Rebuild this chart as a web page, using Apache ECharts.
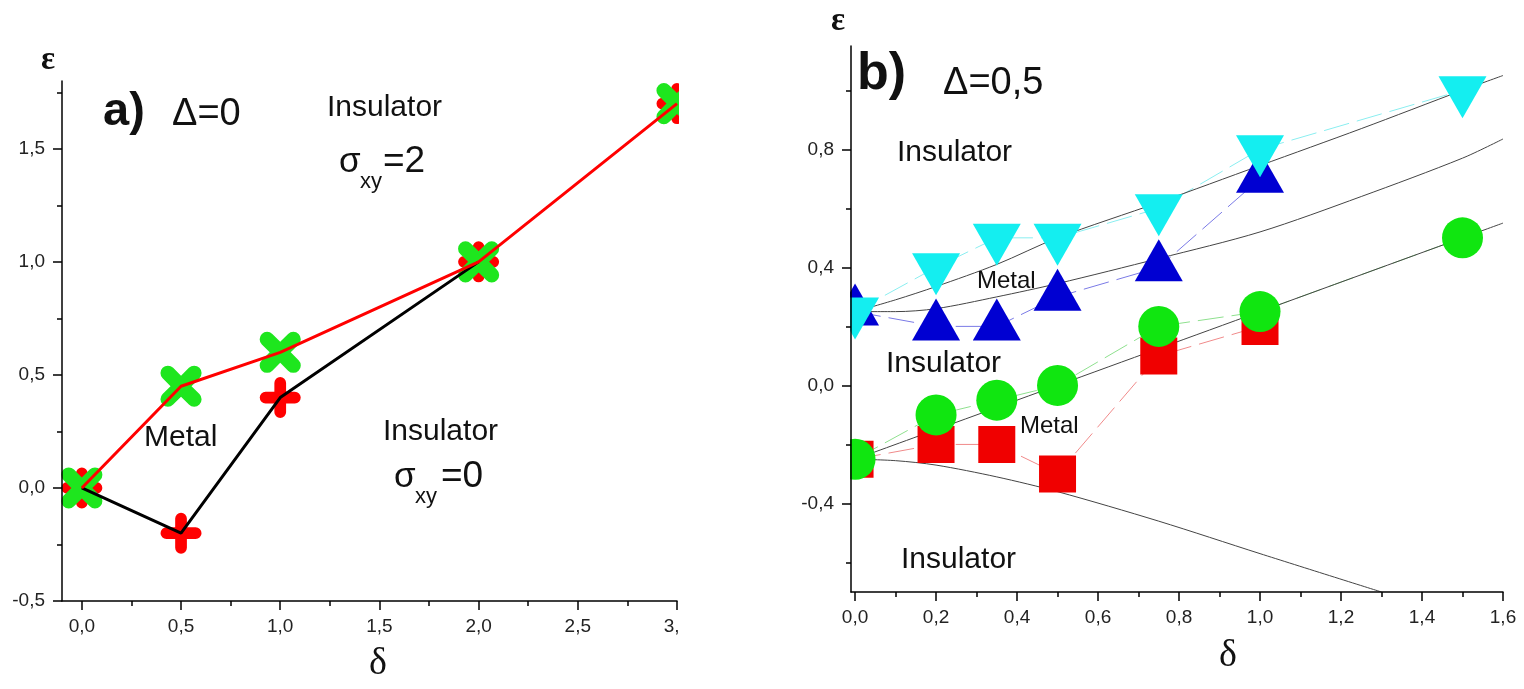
<!DOCTYPE html>
<html>
<head>
<meta charset="utf-8">
<script src="https://cdn.jsdelivr.net/npm/echarts@6/dist/echarts.min.js"></script>
<style>
html, body { margin: 0; padding: 0; background: #fff; }
#wrap { position: relative; width: 1524px; height: 689px; overflow: hidden; }
#chartA { position: absolute; left: 0; top: 0; width: 679px; height: 689px; }
#chartB { position: absolute; left: 679px; top: 0; width: 845px; height: 689px; }
</style>
</head>
<body>
<div id="wrap"><div id="chartA"></div><div id="chartB"></div></div>
<script>
// panel a) Delta=0
var aUpperDelta = [0, 0.5, 1.0, 2.0, 3.0];
var aUpperEps = [0, 0.45, 0.6, 1.0, 1.7];
var aLowerDelta = [0, 0.5, 1.0, 2.0];
var aLowerEps = [0, -0.2, 0.4, 1.0];
var aPlusDelta = [0, 0.5, 1.0, 2.0, 3.0];
var aPlusEps = [0, -0.2, 0.4, 1.0, 1.7];
var aXTicks = [0, 0.5, 1.0, 1.5, 2.0, 2.5, 3.0];
var aXMinor = [0.25, 0.75, 1.25, 1.75, 2.25, 2.75];
var aYTicks = [-0.5, 0, 0.5, 1.0, 1.5];
var aYMinor = [-0.25, 0.25, 0.75, 1.25, 1.75];

// panel b) Delta=0,5
var bDelta = [0, 0.2, 0.35, 0.5, 0.75, 1.0];
var bDeltaLong = [0, 0.2, 0.35, 0.5, 0.75, 1.0, 1.5];
var bSquareEps = [-0.25, -0.2, -0.2, -0.3, 0.1, 0.2];
var bCircleEps = [-0.25, -0.1, -0.05, 0.0, 0.2, 0.25, 0.5];
var bUpTriEps = [0.25, 0.2, 0.2, 0.3, 0.4, 0.7];
var bDownTriEps = [0.25, 0.4, 0.5, 0.5, 0.6, 0.8, 1.0];
var bCurve1Delta = [0, 0.1, 0.2, 0.35, 0.5, 0.75, 1.0, 1.25, 1.5, 1.6];
var bCurve1Eps = [0.25, 0.29, 0.335, 0.41, 0.5, 0.62, 0.745, 0.87, 1.0, 1.05];
var bCurve2Delta = [0, 0.1, 0.2, 0.35, 0.5, 0.75, 1.0, 1.25, 1.5, 1.6];
var bCurve2Eps = [0.25, 0.25, 0.26, 0.3, 0.345, 0.43, 0.52, 0.64, 0.77, 0.835];
var bCurve3Delta = [0, 0.2, 0.5, 0.75, 1.0, 1.5, 1.6];
var bCurve3Eps = [-0.25, -0.15, 0.0, 0.125, 0.25, 0.5, 0.55];
var bCurve4Delta = [0, 0.1, 0.2, 0.35, 0.5, 0.75, 1.0, 1.3];
var bCurve4Eps = [-0.25, -0.255, -0.27, -0.31, -0.36, -0.46, -0.57, -0.7];
var bXTicks = [0, 0.2, 0.4, 0.6, 0.8, 1.0, 1.2, 1.4, 1.6];
var bXMinor = [0.1, 0.3, 0.5, 0.7, 0.9, 1.1, 1.3, 1.5];
var bYTicks = [-0.4, 0, 0.4, 0.8];
var bYMinor = [-0.6, -0.2, 0.2, 0.6, 1.0];

var plusPath = 'path://M32,5 A18,18 0 0 1 68,5 L68,32 L95,32 A18,18 0 0 1 95,68 L68,68 L68,95 A18,18 0 0 1 32,95 L32,68 L5,68 A18,18 0 0 1 5,32 L32,32 Z';
var downTri = 'path://M0,0 L2,0 L1,2 Z';
var sans = 'Liberation Sans';
var serif = 'Liberation Serif';

function pairs(xs, ys) {
	return xs.map(function (x, i) { return [x, ys[i]]; });
}
function comma(v) {
	return v.toFixed(1).replace('.', ',');
}
function txt(x, y, s, size, extra) {
	var style = { text: s, font: (extra && extra.bold ? 'bold ' : '') + size + 'px "' + ((extra && extra.family) || sans) + '"',
		fill: '#111', verticalAlign: 'middle', align: (extra && extra.align) || 'left' };
	return { type: 'text', x: x, y: y, z: 10, style: style };
}
function axisPair(dim, min, max, major, minor) {
	var line = { color: '#000', width: 1.5 };
	return [{
		type: 'value', min: min, max: max, position: dim === 'x' ? 'bottom' : 'left', z: 5,
		axisLine: { show: true, onZero: false, lineStyle: line },
		axisTick: { show: true, customValues: major, length: 9, lineStyle: line },
		axisLabel: { show: true, customValues: major, formatter: comma, fontFamily: sans, fontSize: 19, color: '#222', margin: dim === 'x' ? 16 : 17 },
		splitLine: { show: false }
	}, {
		type: 'value', min: min, max: max, position: dim === 'x' ? 'bottom' : 'left', z: 5,
		axisLine: { show: false, onZero: false },
		axisTick: { show: true, customValues: minor, length: 5, lineStyle: line },
		axisLabel: { show: false },
		splitLine: { show: false }
	}];
}

/* panel a */
var chartA = echarts.init(document.getElementById('chartA'));
chartA.setOption({
	animation: false,
	grid: { left: 62, top: 81, width: 615, height: 520, outerBoundsMode: 'none', containLabel: false },
	xAxis: axisPair('x', -0.1, 3.0, aXTicks, aXMinor),
	yAxis: axisPair('y', -0.5, 1.8, aYTicks, aYMinor),
	series: [{
		type: 'line', data: pairs(aLowerDelta, aLowerEps), symbol: 'none',
		lineStyle: { color: '#000', width: 3 }
	}, {
		type: 'line', data: pairs(aUpperDelta, aUpperEps), symbol: 'none',
		lineStyle: { color: '#ff0000', width: 3 }
	}, {
		type: 'scatter', data: pairs(aPlusDelta, aPlusEps), symbol: plusPath, symbolSize: 41,
		itemStyle: { color: '#ff0000', opacity: 1 }
	}, {
		type: 'scatter', data: pairs(aUpperDelta, aUpperEps), symbol: plusPath, symbolSize: 52, symbolRotate: 45,
		itemStyle: { color: '#1ee61e', opacity: 1 }
	}],
	graphic: [
		{ type: 'rect', z: 4, shape: { x: 20, y: 75, width: 41, height: 530 }, style: { fill: '#fff' } },
		txt(48, 60, 'ε', 33, { bold: true, family: serif, align: 'center' }),
		txt(378, 664, 'δ', 38, { family: serif, align: 'center' }),
		txt(103, 112, 'a)', 47, { bold: true }),
		txt(172, 115, 'Δ=0', 38),
		txt(327, 107.5, 'Insulator', 30),
		txt(339, 162, 'σ', 35),
		txt(360, 182, 'xy', 22),
		txt(383, 162, '=2', 37),
		txt(144, 437.5, 'Metal', 30),
		txt(383, 431.5, 'Insulator', 30),
		txt(394, 477, 'σ', 35),
		txt(415, 497, 'xy', 22),
		txt(441, 477, '=0', 37)
	]
});

/* panel b */
var chartB = echarts.init(document.getElementById('chartB'));
var dash = [26, 8];
chartB.setOption({
	animation: false,
	grid: { left: 172, top: 46, width: 652, height: 546, outerBoundsMode: 'none', containLabel: false },
	xAxis: axisPair('x', -0.01, 1.6, bXTicks, bXMinor),
	yAxis: axisPair('y', -0.7, 1.15, bYTicks, bYMinor),
	series: [{
		type: 'line', data: pairs(bDelta, bSquareEps), symbol: 'rect', symbolSize: 37,
		itemStyle: { color: '#f00000' }, lineStyle: { color: '#f08a8a', width: 1, type: dash }
	}, {
		type: 'line', data: pairs(bDeltaLong, bCircleEps), symbol: 'circle', symbolSize: 41,
		itemStyle: { color: '#10e610' }, lineStyle: { color: '#8ee08e', width: 1, type: dash }
	}, {
		type: 'line', data: pairs(bDelta, bUpTriEps), symbol: 'triangle', symbolSize: [48, 42], symbolOffset: [0, -7],
		itemStyle: { color: '#0000d2' }, lineStyle: { color: '#7a7ae6', width: 1, type: dash }
	}, {
		type: 'line', data: pairs(bDeltaLong, bDownTriEps), symbol: downTri, symbolSize: [48, 42], symbolOffset: [0, 7],
		itemStyle: { color: '#14eef0' }, lineStyle: { color: '#8aeef0', width: 1, type: dash }
	}, {
		type: 'line', data: pairs(bCurve1Delta, bCurve1Eps), symbol: 'none', smooth: 0.3, z: 3,
		lineStyle: { color: '#444', width: 1 }
	}, {
		type: 'line', data: pairs(bCurve2Delta, bCurve2Eps), symbol: 'none', smooth: 0.3, z: 3,
		lineStyle: { color: '#444', width: 1 }
	}, {
		type: 'line', data: pairs(bCurve3Delta, bCurve3Eps), symbol: 'none', smooth: 0.3, z: 3,
		lineStyle: { color: '#444', width: 1 }
	}, {
		type: 'line', data: pairs(bCurve4Delta, bCurve4Eps), symbol: 'none', smooth: 0.3, z: 3,
		lineStyle: { color: '#444', width: 1 }
	}],
	graphic: [
		{ type: 'rect', z: 4, shape: { x: 120, y: 40, width: 51, height: 560 }, style: { fill: '#fff' } },
		txt(159, 21, 'ε', 33, { bold: true, family: serif, align: 'center' }),
		txt(549, 656, 'δ', 38, { family: serif, align: 'center' }),
		txt(178, 75, 'b)', 52, { bold: true }),
		txt(264, 84, 'Δ=0,5', 38),
		txt(218, 152.5, 'Insulator', 30),
		txt(298, 281.5, 'Metal', 24),
		txt(207, 363.5, 'Insulator', 30),
		txt(341, 426.5, 'Metal', 24),
		txt(222, 559.5, 'Insulator', 30)
	]
});
</script>
</body>
</html>
